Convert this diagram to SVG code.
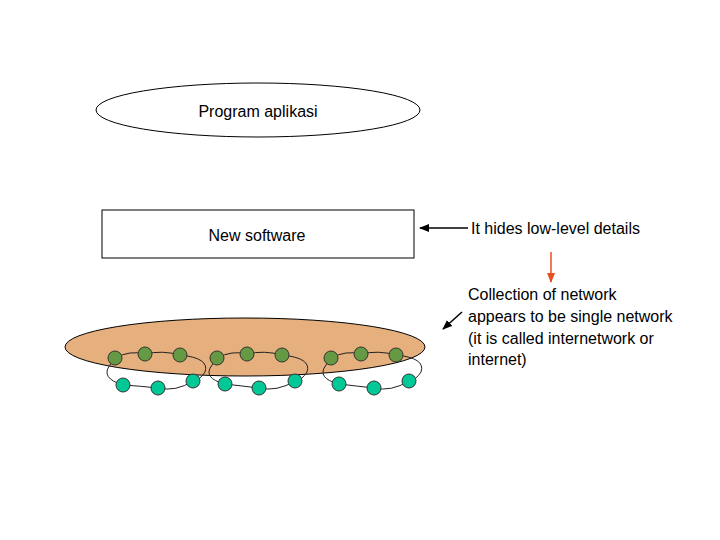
<svg xmlns="http://www.w3.org/2000/svg" width="720" height="540" viewBox="0 0 720 540">
<defs>
<style>
text{font-family:"Liberation Sans",Arial,sans-serif;font-size:16px;fill:#000}
.t{fill:#669944;stroke:#333;stroke-width:1}
.b{fill:#00C896;stroke:#333;stroke-width:1}
.loop{fill:none;stroke:#222;stroke-width:1}
</style>
<marker id="ak" markerWidth="10" markerHeight="8" refX="9" refY="4" orient="auto" markerUnits="userSpaceOnUse"><path d="M0,0 L10,4 L0,8 Z" fill="#000"/></marker>
<marker id="ao" markerWidth="10" markerHeight="8" refX="9" refY="4" orient="auto" markerUnits="userSpaceOnUse"><path d="M0,0 L10,4 L0,8 Z" fill="#E8501E"/></marker>
</defs>
<g id="app"><ellipse cx="258" cy="110" rx="162" ry="27" fill="#fff" stroke="#000"/><text x="258" y="117" text-anchor="middle">Program aplikasi</text></g>
<g id="soft"><rect x="102" y="210" width="312" height="48" fill="#fff" stroke="#000"/><text x="257" y="241" text-anchor="middle">New software</text></g>
<g id="net">
<ellipse cx="245" cy="347" rx="180" ry="29" fill="#E6AF7E" stroke="#000"/>
<g class="loop">
<path d="M115,358 Q130,350 145,354 Q162,350 180,355 Q210,358 205,372 Q200,380 193,381 Q176,392 158,388 Q140,386 123,385 Q100,378 110,365 Z"/>
<path d="M217,358 Q232,350 247,354 Q264,350 282,355 Q312,358 307,372 Q302,380 295,381 Q277,392 259,388 Q242,386 225,384 Q202,378 212,365 Z"/>
<path d="M331,358 Q346,350 361,354 Q378,350 396,355 Q426,358 421,372 Q416,380 409,381 Q391,392 374,388 Q356,386 339,384 Q316,378 326,365 Z"/>
</g>
<g>
<circle class="t" cx="115" cy="358" r="7"/><circle class="t" cx="145" cy="354" r="7"/><circle class="t" cx="180" cy="355" r="7"/>
<circle class="t" cx="217" cy="358" r="7"/><circle class="t" cx="247" cy="354" r="7"/><circle class="t" cx="282" cy="355" r="7"/>
<circle class="t" cx="331" cy="358" r="7"/><circle class="t" cx="361" cy="354" r="7"/><circle class="t" cx="396" cy="355" r="7"/>
<circle class="b" cx="123" cy="385" r="7"/><circle class="b" cx="158" cy="388" r="7"/><circle class="b" cx="193" cy="381" r="7"/>
<circle class="b" cx="225" cy="384" r="7"/><circle class="b" cx="259" cy="388" r="7"/><circle class="b" cx="295" cy="381" r="7"/>
<circle class="b" cx="339" cy="384" r="7"/><circle class="b" cx="374" cy="388" r="7"/><circle class="b" cx="409" cy="381" r="7"/>
</g>
</g>
<g id="labels">
<text x="471" y="234">It hides low-level details</text>
<text x="468" y="300">Collection of network</text>
<text x="468" y="322">appears to be single network</text>
<text x="468" y="344">(it is called internetwork  or</text>
<text x="468" y="365">internet)</text>
</g>
<g id="connectors" stroke-width="1.5">
<line x1="468" y1="228" x2="420" y2="228" stroke="#000" marker-end="url(#ak)"/>
<line x1="551" y1="252" x2="551" y2="282" stroke="#E8501E" marker-end="url(#ao)"/>
<line x1="462" y1="312" x2="443" y2="329" stroke="#000" marker-end="url(#ak)"/>
</g>
</svg>
